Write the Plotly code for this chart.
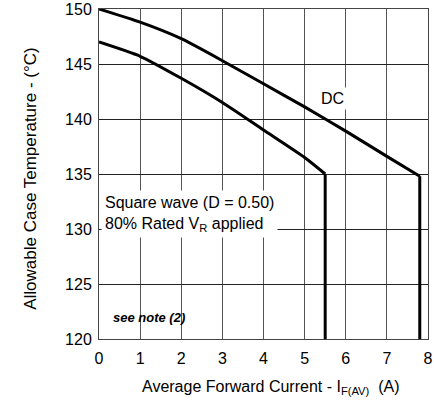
import plotly.graph_objects as go

# DC curve
dc_current = [0, 1, 2, 3, 4, 5, 6, 7, 7.8, 7.8]
dc_temp = [150, 148.8, 147.3, 145.3, 143.2, 141.1, 138.9, 136.6, 134.8, 120]

# Square wave curve
sq_current = [0, 1, 2, 3, 4, 5, 5.5, 5.5]
sq_temp = [147, 145.7, 143.7, 141.5, 139.0, 136.5, 135, 120]

x_ticks = [0, 1, 2, 3, 4, 5, 6, 7, 8]
y_ticks = [120, 125, 130, 135, 140, 145, 150]

FONT = "Liberation Sans, Arial, sans-serif"

fig = go.Figure()
for xs, ys in ((dc_current, dc_temp), (sq_current, sq_temp)):
    # sloped part (smooth) and vertical drop
    fig.add_trace(go.Scatter(x=xs[:-1], y=ys[:-1], mode="lines",
                             line=dict(color="black", width=3, shape="spline", smoothing=0.6),
                             showlegend=False))
    fig.add_trace(go.Scatter(x=xs[-2:], y=ys[-2:], mode="lines",
                             line=dict(color="black", width=3), showlegend=False))

fig.update_layout(
    width=434, height=406,
    margin=dict(l=99, r=6, t=9, b=67),
    plot_bgcolor="white", paper_bgcolor="white",
    font=dict(family=FONT, color="black", size=16),
    xaxis=dict(range=[0, 8], tickvals=x_ticks, showgrid=True, gridcolor="#555",
               gridwidth=1, showline=True, linecolor="#444", linewidth=1, mirror=True,
               zeroline=False, ticks="", tickfont=dict(size=16), automargin=False,
               ticklabelstandoff=5),
    yaxis=dict(range=[120, 150], tickvals=y_ticks, showgrid=True, gridcolor="#222",
               gridwidth=1, showline=True, linecolor="#444", linewidth=1, mirror=True,
               zeroline=False, ticks="", tickfont=dict(size=16), automargin=False,
               ticklabelstandoff=3),
    annotations=[
        dict(x=5.68, y=141.85, xref="x", yref="y", text="DC", showarrow=False,
             font=dict(size=16), bgcolor="white", borderpad=2),
        dict(x=0.05, y=131.4, xref="x", yref="y", xanchor="left", align="left",
             text="Square wave (D = 0.50)<br>80% Rated V<sub>R</sub> applied",
             showarrow=False, font=dict(size=16), bgcolor="white", borderpad=3),
        dict(x=0.3, y=121.96, xref="x", yref="y", xanchor="left",
             text="<b><i>see note (2)</i></b>", showarrow=False, font=dict(size=13)),
        dict(x=-0.242, y=0.488, xref="paper", yref="paper", textangle=-90,
             text="Allowable Case Temperature - (°C)", showarrow=False,
             font=dict(size=17)),
        dict(x=0.523, y=-0.183, xref="paper", yref="paper",
             text="Average Forward Current - I<sub>F(AV)</sub>  (A)", showarrow=False,
             font=dict(size=16)),
    ],
)

# remove the default 8px body margin so the figure fills the window exactly
fig.write_html("out.html", config={"displayModeBar": False},
               post_script="document.body.style.margin='0';document.body.style.overflow='hidden';")
